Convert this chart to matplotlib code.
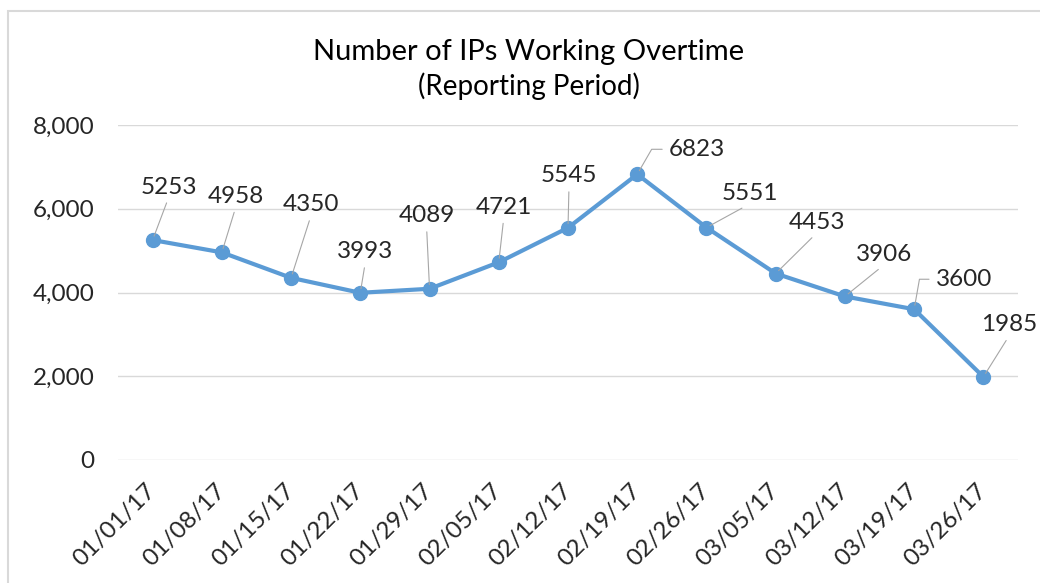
import matplotlib.pyplot as plt
from matplotlib.patches import Rectangle

# data
fechas = ['01/01/17', '01/08/17', '01/15/17', '01/22/17', '01/29/17', '02/05/17',
          '02/12/17', '02/19/17', '02/26/17', '03/05/17', '03/12/17', '03/19/17', '03/26/17']
ips = [5253, 4958, 4350, 3993, 4089, 4721, 5545, 6823, 5551, 4453, 3906, 3600, 1985]
yticks = [0, 2000, 4000, 6000, 8000]

# posicion de las etiquetas (pixeles desde cada punto, centro del texto)
offsets = [(16, 53), (14, 56), (20, 73), (5, 41), (-3, 73), (5, 55), (1, 52),
           (60, 25), (43, 34), (41, 51), (39, 42), (50, 30), (26, 52)]
# etiquetas con codo horizontal (angulo del tramo que sale del punto)
codos = {7: 60, 11: 80}

plt.rcParams['font.family'] = ['Lato', 'DejaVu Sans']

fig = plt.figure(figsize=(10.4, 5.83), dpi=100)
ax = fig.add_axes([118 / 1040, 1 - 460 / 583, 900 / 1040, 335 / 583])

# borde del grafico
fig.patches.append(Rectangle((8 / 1040, -0.1), 1.2, 1 - 11 / 583 + 0.1, transform=fig.transFigure,
                             fill=False, edgecolor='#d9d9d9', lw=1.5))

x = list(range(len(fechas)))
ax.plot(x, ips, color='#5b9bd5', lw=3, marker='o', markersize=10, zorder=3)

for i, v in enumerate(ips):
    dx, dy = offsets[i]
    if i in codos:
        flecha = dict(arrowstyle='-', color='#a6a6a6', lw=0.8, relpos=(0, 0.5),
                      shrinkA=3, shrinkB=3,
                      connectionstyle=f'angle,angleA=180,angleB={codos[i]},rad=0')
    else:
        flecha = dict(arrowstyle='-', color='#a6a6a6', lw=0.8, relpos=(0.5, 0),
                      shrinkA=2, shrinkB=3)
    ax.annotate(str(v), xy=(i, v), xytext=(dx, dy), textcoords='offset pixels',
                ha='center', va='center', fontsize=17.5, color='#262626', arrowprops=flecha)

ax.set_xlim(-0.5, len(fechas) - 0.5)
ax.set_ylim(0, 8000)
ax.set_yticks(yticks)
ax.set_yticklabels([f'{t:,}' for t in yticks], fontsize=17.5, color='#262626')
ax.set_xticks(x)
ax.set_xticklabels(fechas, rotation=45, ha='right', va='center', rotation_mode='anchor',
                   fontsize=17.5, color='#262626')
ax.tick_params(axis='both', length=0)
ax.tick_params(axis='y', pad=17)
ax.tick_params(axis='x', pad=20)
ax.grid(axis='y', color='#d9d9d9', lw=1)
ax.set_axisbelow(True)
for s in ax.spines.values():
    s.set_visible(False)

fig.text(529 / 1040, 1 - 52 / 583, 'Number of IPs Working Overtime', ha='center', va='center',
         fontsize=21, color='#000000')
fig.text(529 / 1040, 1 - 86 / 583, '(Reporting Period)', ha='center', va='center',
         fontsize=20, color='#000000')

fig.savefig('out.png', dpi=100)
